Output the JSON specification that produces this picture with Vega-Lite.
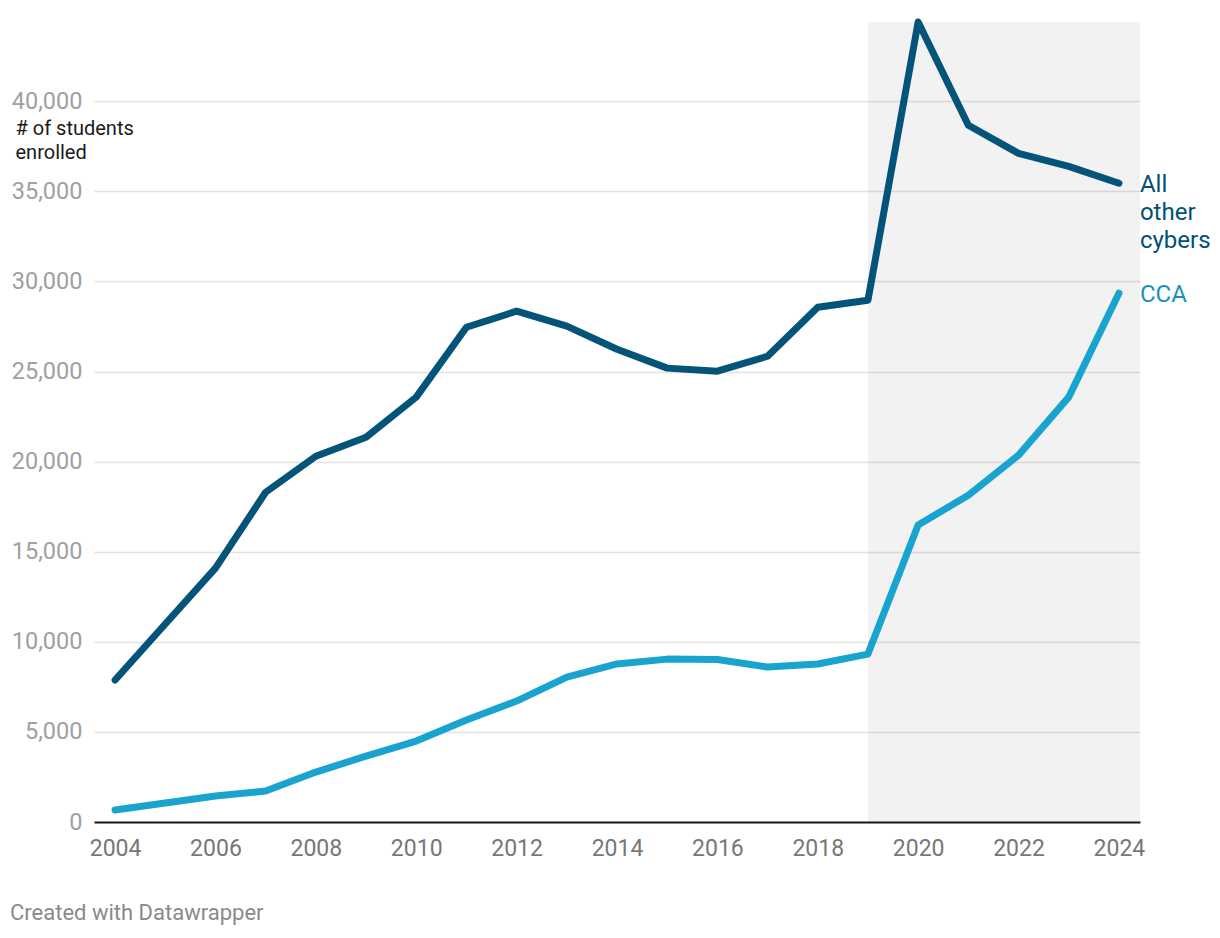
{
  "$schema": "https://vega.github.io/schema/vega-lite/v6.json",
  "width": 1046,
  "height": 800,
  "autosize": {"type": "none"},
  "padding": {"left": 94, "top": 22, "right": 80, "bottom": 116},
  "background": "white",
  "config": {
    "font": "Roboto",
    "view": {"stroke": null}
  },
  "title": {
    "text": "Created with Datawrapper",
    "orient": "bottom",
    "anchor": "start",
    "frame": "group",
    "dx": -84,
    "offset": 43,
    "fontSize": 22,
    "fontWeight": "normal",
    "color": "#8a8a8a",
    "font": "Roboto"
  },
  "datasets": {
    "enrol": [
      {"year": 2004, "series": "All other cybers", "value": 7880},
      {"year": 2005, "series": "All other cybers", "value": 10990},
      {"year": 2006, "series": "All other cybers", "value": 14090},
      {"year": 2007, "series": "All other cybers", "value": 18300},
      {"year": 2008, "series": "All other cybers", "value": 20300},
      {"year": 2009, "series": "All other cybers", "value": 21350},
      {"year": 2010, "series": "All other cybers", "value": 23580},
      {"year": 2011, "series": "All other cybers", "value": 27460},
      {"year": 2012, "series": "All other cybers", "value": 28350},
      {"year": 2013, "series": "All other cybers", "value": 27520},
      {"year": 2014, "series": "All other cybers", "value": 26240},
      {"year": 2015, "series": "All other cybers", "value": 25190},
      {"year": 2016, "series": "All other cybers", "value": 25020},
      {"year": 2017, "series": "All other cybers", "value": 25850},
      {"year": 2018, "series": "All other cybers", "value": 28570},
      {"year": 2019, "series": "All other cybers", "value": 28960},
      {"year": 2020, "series": "All other cybers", "value": 44400},
      {"year": 2021, "series": "All other cybers", "value": 38670},
      {"year": 2022, "series": "All other cybers", "value": 37110},
      {"year": 2023, "series": "All other cybers", "value": 36390},
      {"year": 2024, "series": "All other cybers", "value": 35450},
      {"year": 2004, "series": "CCA", "value": 670},
      {"year": 2005, "series": "CCA", "value": 1050},
      {"year": 2006, "series": "CCA", "value": 1440},
      {"year": 2007, "series": "CCA", "value": 1720},
      {"year": 2008, "series": "CCA", "value": 2770},
      {"year": 2009, "series": "CCA", "value": 3660},
      {"year": 2010, "series": "CCA", "value": 4490},
      {"year": 2011, "series": "CCA", "value": 5660},
      {"year": 2012, "series": "CCA", "value": 6710},
      {"year": 2013, "series": "CCA", "value": 8040},
      {"year": 2014, "series": "CCA", "value": 8770},
      {"year": 2015, "series": "CCA", "value": 9040},
      {"year": 2016, "series": "CCA", "value": 9020},
      {"year": 2017, "series": "CCA", "value": 8600},
      {"year": 2018, "series": "CCA", "value": 8770},
      {"year": 2019, "series": "CCA", "value": 9320},
      {"year": 2020, "series": "CCA", "value": 16480},
      {"year": 2021, "series": "CCA", "value": 18140},
      {"year": 2022, "series": "CCA", "value": 20360},
      {"year": 2023, "series": "CCA", "value": 23580},
      {"year": 2024, "series": "CCA", "value": 29350}
    ],
    "shade": [{"from": 2019, "to": 2024.42}]
  },
  "layer": [
    {
      "data": {"name": "shade"},
      "mark": {"type": "rect", "color": "#000000", "opacity": 0.05},
      "encoding": {
        "x": {"field": "from", "type": "quantitative", "scale": {"domain": [2003.58, 2024.42], "nice": false, "zero": false},
          "axis": {
            "values": [2004, 2006, 2008, 2010, 2012, 2014, 2016, 2018, 2020, 2022, 2024],
            "format": "d",
            "title": null,
            "grid": false,
            "ticks": false,
            "tickSize": 0,
            "domain": true,
            "domainColor": "#1a1a1a",
            "domainWidth": 2,
            "labelFontSize": 23,
            "labelColor": "#777777",
            "labelPadding": 15,
            "labelFont": "Roboto"
          }
        },
        "x2": {"field": "to"}
      }
    },
    {
      "data": {"name": "enrol"},
      "mark": {"type": "line", "strokeWidth": 7, "strokeCap": "round", "strokeJoin": "round"},
      "encoding": {
        "x": {"field": "year", "type": "quantitative"},
        "y": {"field": "value", "type": "quantitative",
          "scale": {"domain": [0, 44400], "nice": false},
          "axis": {
            "values": [0, 5000, 10000, 15000, 20000, 25000, 30000, 35000, 40000],
            "format": ",d",
            "title": ["# of students", "enrolled"],
            "titleAngle": 0,
            "titleAlign": "left",
            "titleBaseline": "alphabetic",
            "titleX": -79,
            "titleY": 112,
            "titleFontSize": 20,
            "titleFontWeight": "normal",
            "titleColor": "#1a1a1a",
            "titleLineHeight": 24,
            "titleFont": "Roboto",
            "domain": false,
            "ticks": false,
            "tickSize": 0,
            "grid": true,
            "gridColor": "#e3e3e3",
            "gridWidth": 1.5,
            "labelFontSize": 23.5,
            "labelColor": "#a0a0a0",
            "labelPadding": 12,
            "labelFont": "Roboto"
          }
        },
        "color": {"field": "series", "type": "nominal",
          "scale": {"domain": ["All other cybers", "CCA"], "range": ["#045379", "#19a3cf"]},
          "legend": null}
      }
    },
    {
      "data": {"name": "enrol"},
      "transform": [{"filter": "datum.year == 2024"}],
      "mark": {"type": "text", "align": "left", "baseline": "alphabetic", "dx": 21, "dy": 8.5, "fontSize": 24, "lineHeight": 28, "lineBreak": " ", "font": "Roboto"},
      "encoding": {
        "x": {"field": "year", "type": "quantitative"},
        "y": {"field": "value", "type": "quantitative"},
        "text": {"field": "series"},
        "color": {"field": "series", "type": "nominal",
          "scale": {"domain": ["All other cybers", "CCA"], "range": ["#005177", "#1593c0"]},
          "legend": null}
      }
    }
  ],
  "resolve": {"scale": {"color": "independent"}}
}
